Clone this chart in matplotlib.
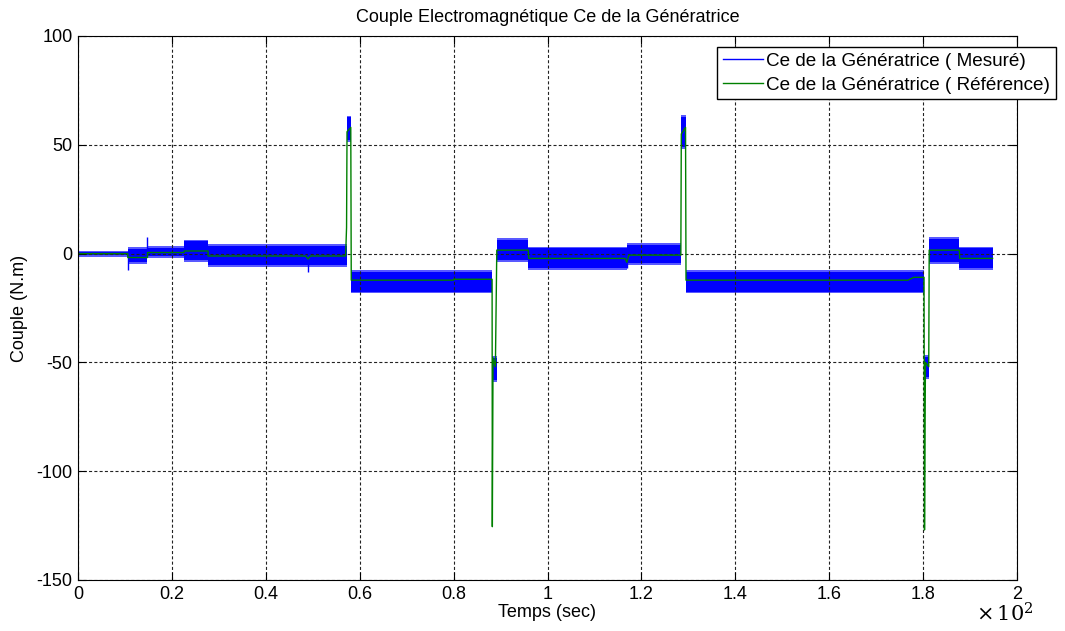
import matplotlib
matplotlib.use("Agg")
import matplotlib.pyplot as plt
from matplotlib.lines import Line2D
from matplotlib.ticker import FuncFormatter, MultipleLocator

plt.rcParams['font.family'] = ['Liberation Sans', 'DejaVu Sans']
plt.rcParams['mathtext.fontset'] = 'dejavuserif'
plt.rcParams['axes.unicode_minus'] = False
plt.rcParams['lines.scale_dashes'] = False

# reference torque (green), breakpoints in seconds / N.m
ref_t = [0, 10.6, 10.6, 14.8, 14.8, 22.6, 22.6, 27.7, 27.7, 48.5, 49.0, 49.5, 57.0,
         57.2, 57.3, 58.1, 58.2, 80.0, 80.0, 88.2, 88.25, 88.4, 88.9, 89.2, 95.9,
         96.0, 116.5, 116.9, 117.3, 128.4, 128.5, 129.4, 129.5, 176.8, 178.0, 180.2,
         180.3, 180.5, 181.2, 181.3, 187.7, 187.8, 194.8]
ref_y = [0, 0, -1.8, -1.8, 0.5, 0.5, 1.2, 1.2, -1.1, -1.1, -2.5, -1.1, -1.1,
         12, 56, 58, -12.2, -12.2, -11.8, -11.8, -125.5, -48, -52, 1.6, 1.6,
         -2.2, -2.2, -4.0, -0.7, -0.7, 55, 58, -12.2, -12.2, -10.9, -10.9,
         -127, -50, -52, 1.6, 1.6, -2.2, -2.2]

# measured torque (blue): noise envelope per segment
seg_start = [0, 10.6, 14.8, 22.6, 27.7, 57.2, 58.1, 88.2, 89.2, 95.9, 116.9, 128.4, 129.5, 180.2, 181.3, 187.7]
seg_end   = [10.6, 14.8, 22.6, 27.7, 57.2, 58.1, 88.2, 89.2, 95.9, 116.9, 128.4, 129.5, 180.2, 181.3, 187.7, 194.8]
seg_lo    = [-0.6, -3.8, -1.0, -3.1, -5.4, 52.0, -17.5, -58.0, -3.0, -6.8, -4.5, 49.0, -17.5, -56.6, -3.8, -6.8]
seg_hi    = [0.6, 2.3, 2.5, 5.6, 3.4, 62.6, -8.3, -48.0, 6.2, 2.4, 3.9, 62.9, -8.3, -47.4, 6.6, 2.4]

# isolated spikes of the measured signal
spike_t  = [10.7, 14.8, 49.0, 116.9]
spike_lo = [-7.6, -1.0, -8.3, -6.5]
spike_hi = [1.0, 7.6, 1.0, 1.0]

fig = plt.figure(figsize=(10.65, 6.31), dpi=100)
ax = fig.add_axes([78/1065, 1-580/631, (1017-78)/1065, 544/631])

for s, e, lo, hi in zip(seg_start, seg_end, seg_lo, seg_hi):
    # soft fringe + solid core, to suggest the noisy band
    ax.fill_between([s, e], [lo - 0.8, lo - 0.8], [hi + 0.8, hi + 0.8], color=(0.35, 0.35, 1), linewidth=0)
    ax.fill_between([s, e], [lo, lo], [hi, hi], color=(0, 0, 1), linewidth=0)
ax.vlines(spike_t, spike_lo, spike_hi, color=(0, 0, 1), linewidth=1)
ax.plot(ref_t, ref_y, color=(0, 0.5, 0), linewidth=1)

ax.set_xlim(0, 200)
ax.set_ylim(-150, 100)
ax.xaxis.set_major_locator(MultipleLocator(20))
ax.yaxis.set_major_locator(MultipleLocator(50))
ax.xaxis.set_major_formatter(FuncFormatter(lambda v, p: f"{v/100:g}"))
ax.tick_params(direction='in', top=True, right=True, labelsize=13, length=6, pad=4)
ax.grid(True, color='#222222', linestyle=(0, (2.2, 1.6)), linewidth=0.8)

ax.set_title("Couple Electromagnétique Ce de la Génératrice", fontsize=13, pad=10)
ax.set_xlabel("Temps (sec)", fontsize=13, labelpad=1)
ax.set_ylabel("Couple (N.m)", fontsize=13, labelpad=6)
fig.text(1033/1065, 1-614/631, r"$\times\,10^{2}$", fontsize=15, ha='right', va='center')

handles = [Line2D([], [], color=(0, 0, 1), linewidth=1),
           Line2D([], [], color=(0, 0.5, 0), linewidth=1)]
ax.legend(handles, ["Ce de la Génératrice ( Mesuré)", "Ce de la Génératrice ( Référence)"],
          loc='upper right', bbox_to_anchor=(1056/1065, 1-47/631), bbox_transform=fig.transFigure,
          prop={'size': 13.6}, fancybox=False, framealpha=1,
          edgecolor='black', handlelength=2.1, handletextpad=0.2, borderpad=0.3,
          labelspacing=0.35, borderaxespad=0)

fig.savefig("out.png", dpi=100)
